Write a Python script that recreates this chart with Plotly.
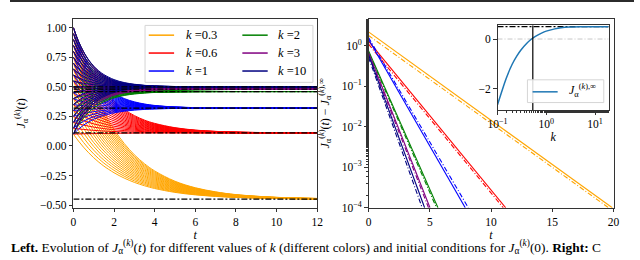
import plotly.graph_objects as go

# ---------------- data ----------------
k_labels = ["0.3", "0.6", "1", "2", "3", "10"]
colors = ["orange", "red", "blue", "green", "purple", "navy"]

# asymptotic values J^(k),inf
j_inf = [-0.45, 0.11, 0.32, 0.46, 0.48, 0.50]

# initial conditions J^(k)(0)
j0_values = [0.10, 0.15, 0.20, 0.25, 0.30, 0.35, 0.40, 0.45, 0.50, 0.55,
             0.60, 0.65, 0.70, 0.75, 0.80, 0.85, 0.90, 0.95, 1.00]

# sample times and the remaining fraction (J(t)-Jinf)/(J(0)-Jinf) per k
t_samples = [0, 0.25, 0.5, 0.75, 1, 1.25, 1.5, 2, 2.5, 3, 3.5, 4, 5, 6, 7, 8, 10, 12]
frac_k03 = [1, 0.894, 0.799, 0.714, 0.638, 0.570, 0.509, 0.407, 0.325, 0.259, 0.207, 0.165, 0.105, 0.067, 0.043, 0.027, 0.011, 0.0045]
frac_k06 = [1, 0.861, 0.741, 0.638, 0.549, 0.472, 0.407, 0.301, 0.223, 0.165, 0.122, 0.091, 0.050, 0.027, 0.015, 0.008, 0.0025, 0.0007]
frac_k1 = [1, 0.809, 0.654, 0.529, 0.427, 0.346, 0.279, 0.183, 0.119, 0.078, 0.051, 0.033, 0.014, 0.006, 0.0026, 0.0011, 0.0002, 0]
frac_k2 = [1, 0.789, 0.622, 0.490, 0.387, 0.305, 0.241, 0.150, 0.093, 0.058, 0.036, 0.022, 0.0087, 0.0033, 0.0013, 0.0005, 0.0001, 0]
frac_k3 = [1, 0.779, 0.607, 0.472, 0.368, 0.287, 0.223, 0.135, 0.082, 0.050, 0.030, 0.018, 0.0067, 0.0025, 0.0009, 0.0003, 0, 0]
frac_k10 = [1, 0.769, 0.592, 0.455, 0.350, 0.269, 0.207, 0.122, 0.072, 0.043, 0.025, 0.015, 0.0052, 0.0018, 0.0006, 0.0002, 0, 0]
fractions = [frac_k03, frac_k06, frac_k1, frac_k2, frac_k3, frac_k10]
t_range_left = [0, 12]

# right panel: J(t) - Jinf (log scale), straight lines: value at t=0, time reaching 1e-4
rp_solid_start = [2.2, 1.3, 1.45, 0.75, 0.68, 0.60]
rp_solid_end_t = [19.9, 11.2, 7.9, 5.67, 5.02, 4.58]
rp_dd_start = [1.8, 1.1, 1.6, 0.70, 0.62, 0.52]
rp_dd_end_t = [19.6, 11.0, 8.15, 5.55, 4.9, 4.38]
rp_floor = 1e-4

# inset: J^(k),inf as a function of k
inset_k = [0.1, 0.12, 0.15, 0.2, 0.25, 0.3, 0.4, 0.5, 0.6, 0.8, 1, 1.5, 2, 3, 5, 10, 19]
inset_j = [-2.65, -2.17, -1.60, -1.02, -0.68, -0.45, -0.17, 0.0, 0.11, 0.24, 0.32, 0.41, 0.453, 0.484, 0.497, 0.5, 0.5]
inset_kmin, inset_kmax = 0.1, 19
inset_kzero = 0.53
inset_jmax = 0.5

FONT = "Liberation Serif"

fig = go.Figure()

# ---------------- left panel ----------------
for lab, col, jinf, frac in zip(k_labels, colors, j_inf, fractions):
    for j0 in j0_values:
        fig.add_trace(go.Scatter(
            x=t_samples, y=[jinf + (j0 - jinf) * f for f in frac],
            mode="lines", line=dict(color=col, width=1, shape="spline"),
            showlegend=False, hoverinfo="skip", xaxis="x", yaxis="y"))
for jinf in j_inf:
    fig.add_trace(go.Scatter(
        x=t_range_left, y=[jinf, jinf], mode="lines",
        line=dict(color="black", width=1.3, dash="6px,2px,2px,2px"),
        showlegend=False, hoverinfo="skip", xaxis="x", yaxis="y"))

# ---------------- right panel ----------------
for col, s0, te, d0, de in zip(colors, rp_solid_start, rp_solid_end_t, rp_dd_start, rp_dd_end_t):
    fig.add_trace(go.Scatter(x=[0, te], y=[s0, rp_floor], mode="lines",
                             line=dict(color=col, width=1.1), showlegend=False,
                             xaxis="x2", yaxis="y2"))
    fig.add_trace(go.Scatter(x=[0, de], y=[d0, rp_floor], mode="lines",
                             line=dict(color=col, width=1.1, dash="5px,2px,1px,2px"),
                             showlegend=False, xaxis="x2", yaxis="y2"))

# ---------------- inset ----------------
fig.add_trace(go.Scatter(x=[inset_kmin, inset_kmax], y=[0, 0], mode="lines",
                         line=dict(color="#c8c8c8", width=1, dash="5px,2px,1px,2px"),
                         showlegend=False, xaxis="x3", yaxis="y3"))
fig.add_trace(go.Scatter(x=[inset_kmin, inset_kmax], y=[inset_jmax, inset_jmax], mode="lines",
                         line=dict(color="black", width=1.3, dash="6px,2px,2px,2px"),
                         showlegend=False, xaxis="x3", yaxis="y3"))
fig.add_trace(go.Scatter(x=inset_k, y=inset_j, mode="lines",
                         line=dict(color="#1f77b4", width=1.5, shape="spline"),
                         showlegend=False, xaxis="x3", yaxis="y3"))

W, H = 640, 260
def px(x):
    return x / W
def py(y):
    return 1 - y / H

axis_common = dict(showgrid=False, zeroline=False, showline=True, mirror=True,
                   linecolor="#333", linewidth=1, ticks="outside", ticklen=3.5,
                   tickcolor="#333", tickfont=dict(family=FONT, size=11.5, color="black"))

fig.update_layout(
    width=W, height=H, autosize=False,
    margin=dict(l=0, r=0, t=0, b=0),
    paper_bgcolor="white", plot_bgcolor="white",
    font=dict(family=FONT, color="black"),
    xaxis=dict(domain=[px(65), px(315)], range=[0, 12], tickvals=[0, 2, 4, 6, 8, 10, 12],
               anchor="y", title=dict(text="<i>t</i>", standoff=0, font=dict(size=12)), **axis_common),
    yaxis=dict(domain=[py(212.7), py(19.5)], range=[-0.5225, 1.0725],
               tickvals=[-0.5, -0.25, 0, 0.25, 0.5, 0.75, 1.0],
               ticktext=["\u22120.50", "\u22120.25", "0.00", "0.25", "0.50", "0.75", "1.00"],
               anchor="x", title=dict(text="<i>J</i><sub>\u03b1</sub><sup>(<i>k</i>)</sup>(<i>t</i>)",
                                      standoff=11, font=dict(size=12)), **axis_common),
    xaxis2=dict(domain=[px(367.7), px(619)], range=[0, 20], tickvals=[0, 5, 10, 15, 20],
                anchor="y2", title=dict(text="<i>t</i>", standoff=0, font=dict(size=12)), **axis_common),
    yaxis2=dict(domain=[py(212.7), py(19.5)], type="log", range=[-4, 0.66],
                tickvals=[1e-4, 1e-3, 1e-2, 1e-1, 1],
                ticktext=["10<sup>\u22124</sup>", "10<sup>\u22123</sup>", "10<sup>\u22122</sup>",
                          "10<sup>\u22121</sup>", "10<sup>0</sup>"],
                minor=dict(ticks="outside", ticklen=2, tickcolor="#333"),
                anchor="x2",
                title=dict(text="<i>J</i><sub>\u03b1</sub><sup>(<i>k</i>)</sup>(<i>t</i>) \u2212 <i>J</i><sub>\u03b1</sub><sup>(<i>k</i>),\u221e</sup>",
                           standoff=9, font=dict(size=12)), **axis_common),
    xaxis3=dict(domain=[px(500), px(614)], type="log", range=[-1, 1.28],
                tickvals=[0.1, 1, 10],
                ticktext=["10<sup>\u22121</sup>", "10<sup>0</sup>", "10<sup>1</sup>"],
                minor=dict(ticks="outside", ticklen=2, tickcolor="#333"),
                anchor="y3", title=dict(text="<i>k</i>", standoff=2, font=dict(size=12)), **axis_common),
    yaxis3=dict(domain=[py(112.7), py(26)], range=[-2.87, 0.55], tickvals=[-2, 0],
                ticktext=["\u22122", "0"], anchor="x3", **axis_common),
)

shapes = []
# inset shaded region and vertical line
shapes.append(dict(type="rect", xref="x3", yref="y3 domain", x0=inset_kmin, x1=inset_kzero,
                   y0=0, y1=1, fillcolor="#e9e9e9", line=dict(width=0), layer="below"))
shapes.append(dict(type="line", xref="x3", yref="y3 domain", x0=inset_kzero, x1=inset_kzero,
                   y0=0, y1=1, line=dict(color="black", width=1.2)))
# top page border
shapes.append(dict(type="rect", xref="paper", yref="paper", x0=0, x1=1, y0=py(2), y1=1,
                   fillcolor="#2b2b2b", line=dict(width=0), layer="above"))
# left legend frame
shapes.append(dict(type="rect", xref="paper", yref="paper", x0=px(138.5), x1=px(310.7),
                   y0=py(84.3), y1=py(26), fillcolor="rgba(255,255,255,0.85)",
                   line=dict(color="#d5d5d5", width=1)))
annotations = []
leg_rows = [36, 54.3, 72.7]
leg_cols = [(142.3, 168.3, 178.3), (238.3, 264.3, 273.3)]
for i, (lab, col) in enumerate(zip(k_labels, colors)):
    c = leg_cols[i // 3]
    r = leg_rows[i % 3]
    shapes.append(dict(type="line", xref="paper", yref="paper", x0=px(c[0]), x1=px(c[1]),
                       y0=py(r), y1=py(r), line=dict(color=col, width=1.5)))
    annotations.append(dict(xref="paper", yref="paper", x=px(c[2]), y=py(r), xanchor="left",
                            yanchor="middle", showarrow=False,
                            text="<i>k</i> =" + lab, font=dict(family=FONT, size=12.5)))
# inset legend
shapes.append(dict(type="rect", xref="paper", yref="paper", x0=px(530.7), x1=px(609),
                   y0=py(105), y1=py(81.7), fillcolor="rgba(255,255,255,0.85)",
                   line=dict(color="#d5d5d5", width=1)))
shapes.append(dict(type="line", xref="paper", yref="paper", x0=px(536), x1=px(561.7),
                   y0=py(94), y1=py(94), line=dict(color="#1f77b4", width=1.5)))
annotations.append(dict(xref="paper", yref="paper", x=px(571), y=py(93), xanchor="left",
                        yanchor="middle", showarrow=False,
                        text="<i>J</i><sub>\u03b1</sub><sup>(<i>k</i>),\u221e</sup>",
                        font=dict(family=FONT, size=12)))
# caption
annotations.append(dict(xref="paper", yref="paper", x=0, y=py(252.5), xanchor="left",
                        yanchor="middle", showarrow=False, borderpad=0,
                        text="<b>Left.</b> Evolution of <i>J</i><sub>\u03b1</sub><sup>(<i>k</i>)</sup>(<i>t</i>) for different values of <i>k</i> (different colors) and initial conditions for <i>J</i><sub>\u03b1</sub><sup>(<i>k</i>)</sup>(0). <b>Right:</b> C",
                        font=dict(family=FONT, size=13.4)))

fig.update_layout(shapes=shapes, annotations=annotations)
fig.write_html("out.html", config={"displayModeBar": False},
               post_script="document.body.style.margin='0';document.body.style.padding='0';")
